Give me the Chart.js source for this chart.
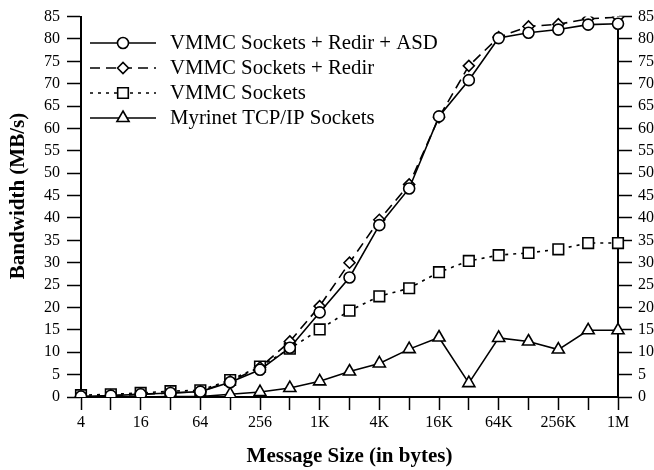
<!DOCTYPE html>
<html>
<head>
<meta charset="utf-8">
<script src="https://cdn.jsdelivr.net/npm/chart.js@4.4.1/dist/chart.umd.min.js"></script>
<style>
    html, body { margin: 0; padding: 0; background: #fff; }
    canvas { display: block; }
</style>
</head>
<body>
<canvas id="bwChart" width="654" height="470"></canvas>
<script>
// message sizes (powers of two, 4 bytes .. 1 MB)
var sizeLabels = ['4', '8', '16', '32', '64', '128', '256', '512', '1K', '2K', '4K', '8K', '16K', '32K', '64K', '128K', '256K', '512K', '1M'];

// bandwidth in MB/s
var redirAsd = [0.1, 0.3, 0.6, 0.9, 1.2, 3.3, 6.1, 11.0, 18.9, 26.7, 38.4, 46.6, 62.7, 70.8, 80.2, 81.4, 82.1, 83.2, 83.4];
var redir = [0.1, 0.3, 0.6, 0.9, 1.2, 3.5, 6.6, 12.4, 20.3, 30.0, 39.6, 47.5, 62.5, 74.0, 80.4, 82.8, 83.3, 84.5, 84.9];
var vmmc = [0.4, 0.6, 0.9, 1.3, 1.5, 3.8, 6.8, 10.8, 15.1, 19.3, 22.5, 24.3, 27.9, 30.4, 31.7, 32.2, 33.0, 34.4, 34.4];
var myrinet = [0.0, 0.0, 0.0, 0.1, 0.1, 0.6, 1.1, 2.0, 3.5, 5.7, 7.5, 10.7, 13.3, 3.1, 13.2, 12.4, 10.6, 14.9, 14.9];

var yTicks = [0, 5, 10, 15, 20, 25, 30, 35, 40, 45, 50, 55, 60, 65, 70, 75, 80, 85];

var serif = "'Liberation Serif', 'Times New Roman', serif";
var yTitle = 'Bandwidth (MB/s)';

// legend in the top left corner (line + marker + text) and the y title,
// which sits a bit above the middle of the axis in the original
var legendPlugin = {
    id: 'paperLegend',
    afterDraw: function (chart) {
        var ctx = chart.ctx;
        ctx.save();
        chart.data.datasets.forEach(function (ds, i) {
            var y = 43 + i * 25;
            ctx.strokeStyle = '#000';
            ctx.lineWidth = ds.borderWidth;
            ctx.setLineDash(ds.borderDash || []);
            ctx.beginPath();
            ctx.moveTo(90, y);
            ctx.lineTo(156, y);
            ctx.stroke();
            ctx.setLineDash([]);
            ctx.fillStyle = '#fff';
            ctx.lineWidth = ds.pointBorderWidth;
            Chart.helpers.drawPoint(ctx, {
                pointStyle: ds.pointStyle,
                radius: ds.pointRadius,
                rotation: 0,
                borderWidth: ds.pointBorderWidth
            }, 123, y);
            ctx.fillStyle = '#000';
            ctx.font = '20.8px ' + serif;
            ctx.textBaseline = 'middle';
            ctx.textAlign = 'left';
            ctx.fillText(ds.label, 170, y + 1);
        });

        ctx.translate(19, 196);
        ctx.rotate(-Math.PI / 2);
        ctx.fillStyle = '#000';
        ctx.font = 'bold 21px ' + serif;
        ctx.textAlign = 'center';
        ctx.textBaseline = 'middle';
        ctx.fillText(yTitle, 0, 0);
        ctx.restore();
    }
};

function makeSet(label, data, style, radius, dash) {
    return {
        label: label,
        data: data,
        borderColor: '#000',
        borderWidth: 1.6,
        borderDash: dash,
        fill: false,
        tension: 0,
        pointStyle: style,
        pointRadius: radius,
        pointBorderWidth: 1.6,
        pointBackgroundColor: '#fff',
        pointBorderColor: '#000'
    };
}

var yAxisCommon = {
    type: 'linear',
    min: 0,
    max: 85,
    afterBuildTicks: function (scale) {
        scale.ticks = yTicks.map(function (v) { return { value: v }; });
    },
    grid: {
        drawOnChartArea: false,
        drawTicks: true,
        tickLength: 14,
        tickWidth: 1.5,
        tickColor: '#000'
    },
    border: { display: true, color: '#000', width: 2 },
    ticks: {
        color: '#000',
        font: { family: serif, size: 16 }
    }
};

new Chart(document.getElementById('bwChart').getContext('2d'), {
    type: 'line',
    data: {
        labels: sizeLabels,
        datasets: [
            makeSet('VMMC Sockets + Redir + ASD', redirAsd, 'circle', 5.5, []),
            makeSet('VMMC Sockets + Redir', redir, 'rectRot', 5.5, [10, 6]),
            makeSet('VMMC Sockets', vmmc, 'rect', 7.5, [3, 5]),
            makeSet('Myrinet TCP/IP Sockets', myrinet, 'triangle', 7, [])
        ]
    },
    options: {
        responsive: false,
        animation: false,
        layout: { padding: { top: 13, right: 0, bottom: 0, left: 0 } },
        plugins: {
            legend: { display: false },
            tooltip: { enabled: false }
        },
        scales: {
            x: {
                type: 'category',
                offset: false,
                afterFit: function (scale) { scale.height = 73; },
                grid: {
                    drawOnChartArea: false,
                    drawTicks: true,
                    tickLength: 13,
                    tickWidth: 1.5,
                    tickColor: '#000'
                },
                border: { display: true, color: '#000', width: 2 },
                ticks: {
                    color: '#000',
                    autoSkip: false,
                    maxRotation: 0,
                    padding: 3,
                    font: { family: serif, size: 16 },
                    callback: function (value, index) {
                        return index % 2 === 0 ? this.getLabelForValue(value) : '';
                    }
                },
                title: {
                    display: true,
                    text: 'Message Size (in bytes)',
                    color: '#000',
                    font: { family: serif, size: 21, weight: 'bold' },
                    padding: { top: 0, bottom: 1 }
                }
            },
            y: Object.assign({}, yAxisCommon, {
                position: 'left',
                afterFit: function (scale) { scale.width = 81; },
                ticks: Object.assign({}, yAxisCommon.ticks, { padding: 7 })
            }),
            y2: Object.assign({}, yAxisCommon, {
                position: 'right',
                afterFit: function (scale) { scale.width = 36; },
                ticks: Object.assign({}, yAxisCommon.ticks, { padding: 6 })
            })
        }
    },
    plugins: [legendPlugin]
});
</script>
</body>
</html>
